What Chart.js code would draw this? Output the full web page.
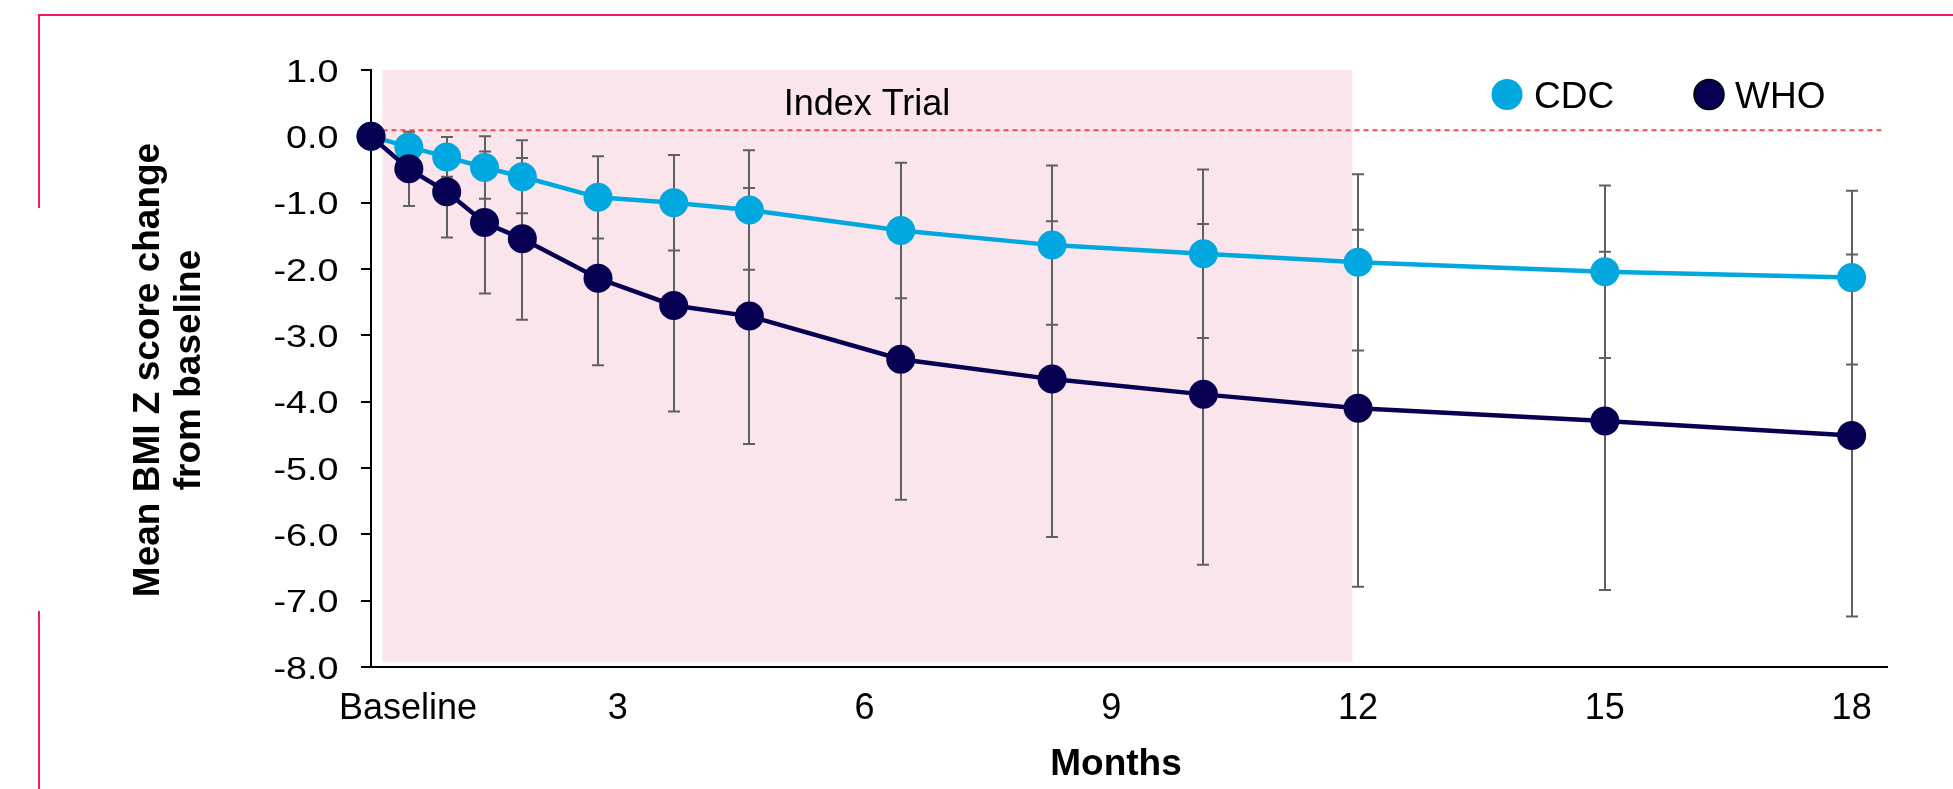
<!DOCTYPE html>
<html>
<head>
<meta charset="utf-8">
<title>BMI Z score change</title>
<script src="https://cdn.jsdelivr.net/npm/chart.js@4.4.1/dist/chart.umd.min.js"></script>
<style>
  html, body { margin: 0; padding: 0; background: #fff; }
  #wrap { width: 1953px; height: 789px; }
</style>
</head>
<body>
<div id="wrap"><canvas id="bmiChart" width="1953" height="789"></canvas></div>
<script>
/* ── Data ─────────────────────────────────────────────────── */
const months   = [0, 0.46, 0.92, 1.38, 1.84, 2.76, 3.68, 4.6, 6.44, 8.28, 10.12, 12, 15, 18];
const cdcMean  = [0, -0.16, -0.31, -0.47, -0.61, -0.92, -1.0, -1.11, -1.42, -1.64, -1.77, -1.9, -2.04, -2.13];
const cdcSD    = [0, 0.14, 0.30, 0.47, 0.55, 0.62, 0.72, 0.90, 1.02, 1.20, 1.27, 1.33, 1.30, 1.31];
const whoMean  = [0, -0.49, -0.835, -1.3, -1.545, -2.14, -2.55, -2.71, -3.36, -3.66, -3.89, -4.1, -4.29, -4.51];
const whoSD    = [0, 0.56, 0.69, 1.07, 1.22, 1.31, 1.60, 1.93, 2.12, 2.38, 2.57, 2.69, 2.55, 2.73];

const xTicks      = [0, 3, 6, 9, 12, 15, 18];
const xTickLabels = ['Baseline', '3', '6', '9', '12', '15', '18'];
const yTicks      = [1, 0, -1, -2, -3, -4, -5, -6, -7, -8];

const trialPeriod = [0.14, 11.93];   // months covered by the "Index Trial" band
const refLineX    = [0.14, 18.36];
const refLineY    = 0.09;

/* ── Styling ──────────────────────────────────────────────── */
const FONT      = "'Liberation Sans', Arial, sans-serif";
const CDC_COLOR = '#00A8DF';
const WHO_COLOR = '#070052';
const BAR_COLOR = '#606060';
const FRAME     = '#F0176F';

Chart.defaults.font.family = FONT;

/* ── Overlay: band, error bars, texts ────────────────────── */
const overlay = {
  id: 'overlay',
  beforeDatasetsDraw(chart) {
    const { ctx, scales: { x, y } } = chart;
    ctx.save();

    // shaded index-trial period
    const bx0 = x.getPixelForValue(trialPeriod[0]);
    const bx1 = x.getPixelForValue(trialPeriod[1]);
    const by0 = y.getPixelForValue(1);
    const by1 = y.getPixelForValue(-7.93);
    ctx.fillStyle = '#FBE5EC';
    ctx.fillRect(bx0, by0, bx1 - bx0, by1 - by0);

    // error bars (±SD)
    ctx.strokeStyle = BAR_COLOR;
    ctx.lineWidth = 2;
    [[cdcMean, cdcSD], [whoMean, whoSD]].forEach(([mean, sd]) => {
      months.forEach((m, i) => {
        if (!sd[i]) return;
        const px = Math.round(x.getPixelForValue(m));
        const top = y.getPixelForValue(mean[i] + sd[i]);
        const bot = y.getPixelForValue(mean[i] - sd[i]);
        ctx.beginPath();
        ctx.moveTo(px, top); ctx.lineTo(px, bot);
        ctx.moveTo(px - 6, top); ctx.lineTo(px + 6, top);
        ctx.moveTo(px - 6, bot); ctx.lineTo(px + 6, bot);
        ctx.stroke();
      });
    });
    ctx.restore();
  },
  afterDraw(chart) {
    const { ctx, scales: { x, y } } = chart;
    ctx.save();
    ctx.fillStyle = '#000';
    ctx.textBaseline = 'alphabetic';

    // y tick labels (slightly wide, as in the original)
    ctx.font = `32px ${FONT}`;
    ctx.textAlign = 'right';
    yTicks.forEach(v => {
      ctx.save();
      ctx.translate(338.5, y.getPixelForValue(v) + 11.8);
      ctx.scale(1.18, 1);
      ctx.fillText(v.toFixed(1), 0, 0);
      ctx.restore();
    });

    // x tick labels
    ctx.font = `36px ${FONT}`;
    xTicks.forEach((v, i) => {
      const px = x.getPixelForValue(v);
      if (i === 0) {
        ctx.textAlign = 'left';
        ctx.fillText(xTickLabels[i], px - 32, 719);
      } else {
        ctx.textAlign = 'center';
        ctx.fillText(xTickLabels[i], px, 719);
      }
    });

    // axis titles
    ctx.font = `bold 37px ${FONT}`;
    ctx.textAlign = 'center';
    ctx.fillText('Months', 1116, 775);
    ctx.save();
    ctx.translate(159, 370);
    ctx.rotate(-Math.PI / 2);
    ctx.fillText('Mean BMI Z score change', 0, 0);
    ctx.restore();
    ctx.save();
    ctx.translate(200, 370);
    ctx.rotate(-Math.PI / 2);
    ctx.fillText('from baseline', 0, 0);
    ctx.restore();

    // band label
    ctx.font = `36px ${FONT}`;
    ctx.fillText('Index Trial', 867, 115);

    // legend
    ctx.font = `37px ${FONT}`;
    ctx.textAlign = 'left';
    ctx.fillStyle = CDC_COLOR;
    ctx.beginPath(); ctx.arc(1507, 94.5, 15.5, 0, Math.PI * 2); ctx.fill();
    ctx.fillStyle = WHO_COLOR;
    ctx.strokeStyle = '#000';
    ctx.lineWidth = 1.5;
    ctx.beginPath(); ctx.arc(1709, 94.5, 15, 0, Math.PI * 2); ctx.fill(); ctx.stroke();
    ctx.fillStyle = '#000';
    ctx.fillText('CDC', 1534, 108);
    ctx.fillText('WHO', 1735, 108);

    // outer frame lines
    ctx.strokeStyle = FRAME;
    ctx.lineWidth = 2;
    ctx.beginPath();
    ctx.moveTo(39, 789); ctx.lineTo(39, 611);
    ctx.moveTo(39, 208); ctx.lineTo(39, 15); ctx.lineTo(1953, 15);
    ctx.stroke();

    ctx.restore();
  }
};

/* ── Chart ────────────────────────────────────────────────── */
const toPoints = (vals) => months.map((m, i) => ({ x: m, y: vals[i] }));

new Chart(document.getElementById('bmiChart'), {
  type: 'line',
  data: {
    datasets: [
      {
        label: 'WHO',
        data: toPoints(whoMean),
        borderColor: WHO_COLOR,
        backgroundColor: WHO_COLOR,
        pointBackgroundColor: WHO_COLOR,
        borderWidth: 4.5,
        pointRadius: 14.5,
        pointBorderWidth: 0,
        tension: 0,
        clip: false,
        order: 0
      },
      {
        label: 'CDC',
        data: toPoints(cdcMean),
        borderColor: CDC_COLOR,
        backgroundColor: CDC_COLOR,
        pointBackgroundColor: CDC_COLOR,
        borderWidth: 4.5,
        pointRadius: 14.5,
        pointBorderWidth: 0,
        tension: 0,
        clip: false,
        order: 1
      },
      {
        label: 'ref',
        data: refLineX.map(v => ({ x: v, y: refLineY })),
        borderColor: '#F04A4A',
        borderWidth: 2,
        borderDash: [5, 4],
        pointRadius: 0,
        order: 2
      }
    ]
  },
  options: {
    responsive: false,
    animation: false,
    events: [],
    layout: { padding: { left: 371, top: 70, right: 66, bottom: 122 } },
    plugins: { legend: { display: false }, tooltip: { enabled: false } },
    scales: {
      x: {
        type: 'linear', min: 0, max: 18.43,
        grid: { display: false },
        border: { display: true, color: '#000', width: 2 },
        ticks: { display: false },
        afterFit: s => { s.height = 0; }
      },
      y: {
        min: -8, max: 1,
        ticks: { display: false, stepSize: 1 },
        grid: { drawOnChartArea: false, drawTicks: true, tickLength: 10, color: '#000', lineWidth: 2 },
        border: { display: true, color: '#000', width: 2 },
        afterFit: s => { s.width = 0; }
      }
    }
  },
  plugins: [overlay]
});
</script>
</body>
</html>
